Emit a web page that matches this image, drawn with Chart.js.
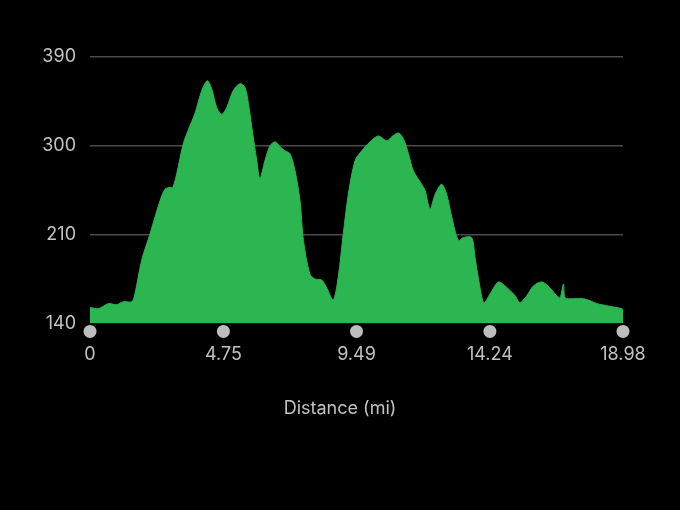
<!DOCTYPE html>
<html lang="en">
  <head>
    <meta charset="UTF-8" />
    <title>Elevation</title>
    <script src="https://cdn.jsdelivr.net/npm/chart.js@4"></script>
    <style>
      html, body { margin: 0; padding: 0; background: #000; }
      #wrap { width: 680px; height: 510px; }
    </style>
  </head>
  <body>
    <div id="wrap"><canvas id="Graph"></canvas></div>

    <script>
      // distance (mi) and elevation
      const distance = [0, 0.30, 0.65, 0.95, 1.19, 1.49, 1.60, 1.84, 2.14, 2.49, 2.67, 2.85, 2.95, 3.09, 3.32, 3.50, 3.74, 3.98, 4.18, 4.33, 4.51, 4.69, 4.87, 5.10, 5.34, 5.52, 5.64, 5.76, 5.94, 6.05, 6.23, 6.41, 6.59, 6.77, 6.94, 7.12, 7.30, 7.48, 7.60, 7.83, 8.01, 8.25, 8.43, 8.66, 8.84, 9.02, 9.20, 9.44, 9.68, 9.97, 10.27, 10.57, 10.74, 10.98, 11.16, 11.34, 11.51, 11.81, 11.93, 12.11, 12.29, 12.52, 12.70, 12.88, 13.12, 13.29, 13.59, 13.71, 13.89, 14.03, 14.25, 14.54, 14.78, 15.14, 15.31, 15.55, 15.79, 16.09, 16.38, 16.62, 16.74, 16.86, 16.92, 17.21, 17.57, 17.81, 18.05, 18.40, 18.76, 18.94, 18.98];
      const elevation = [136, 135, 140, 139, 142, 142, 150, 184, 211, 244, 256, 258, 258, 272, 302, 316, 333, 356, 366, 358, 339, 332, 339, 356, 363, 359, 343, 319, 285, 267, 285, 300, 304, 299, 295, 292, 275, 244, 204, 170, 165, 164, 156, 144, 167, 211, 251, 285, 295, 304, 310, 305, 309, 313, 307, 292, 275, 261, 255, 236, 251, 261, 251, 228, 204, 207, 207, 187, 156, 141, 150, 162, 158, 148, 141, 148, 158, 162, 156, 148, 146, 160, 146, 145, 145, 143, 140, 138, 136, 135, 134];

      const xTicks = [0, 4.75, 9.49, 14.24, 18.98];
      const yTickValues = [120, 210, 300, 390];
      const yTickLabels = ['140', '210', '300', '390'];

      const gray = '#c2c2c2';
      const font = { family: 'Inter, "Noto Sans", sans-serif', size: 18 };

      // grey dots under the x axis at each tick
      const tickDots = {
        id: 'tickDots',
        afterDraw(chart) {
          const ctx = chart.ctx;
          const xs = chart.scales.x;
          const y = chart.chartArea.bottom + 8;
          ctx.save();
          ctx.fillStyle = '#bdbdbd';
          xTicks.forEach(t => {
            ctx.beginPath();
            ctx.arc(xs.getPixelForValue(t), y, 6.5, 0, Math.PI * 2);
            ctx.fill();
          });
          ctx.restore();
        }
      };

      const element = document.getElementById('Graph').getContext('2d');
      new Chart(element, {
        type: 'line',
        data: {
          datasets: [{
            data: distance.map((d, i) => ({ x: d, y: elevation[i] })),
            fill: 'start',
            backgroundColor: '#2bb651',
            borderColor: '#2bb651',
            borderWidth: 1,
            pointRadius: 0,
            tension: 0.3
          }]
        },
        options: {
          responsive: true,
          maintainAspectRatio: false,
          animation: false,
          layout: { padding: { left: 0, right: 0, top: 57, bottom: 91 } },
          plugins: {
            legend: { display: false },
            tooltip: { enabled: false },
            title: {
              display: true,
              position: 'bottom',
              text: 'Distance (mi)',
              color: gray,
              font: { family: font.family, size: 18, weight: 'normal', lineHeight: 1.2 },
              padding: 0
            }
          },
          scales: {
            x: {
              type: 'linear',
              min: 0,
              max: 18.98,
              afterBuildTicks: s => { s.ticks = xTicks.map(v => ({ value: v })); },
              afterFit: s => { s.height = 74; },
              grid: { display: false, drawTicks: false },
              border: { display: false },
              ticks: {
                color: gray,
                font: font,
                padding: 20,
                maxRotation: 0,
                callback: v => String(v)
              }
            },
            y: {
              min: 120,
              max: 390,
              afterBuildTicks: s => { s.ticks = yTickValues.map(v => ({ value: v })); },
              afterFit: s => { s.width = 90; },
              grid: {
                color: c => (c.tick && c.tick.value === 120 ? 'rgba(0,0,0,0)' : '#4a4a4a'),
                lineWidth: 1.5,
                drawTicks: false
              },
              border: { display: false },
              ticks: {
                color: gray,
                font: font,
                padding: 14,
                callback: v => yTickLabels[yTickValues.indexOf(v)]
              }
            },
            // empty right-hand scale, only reserves the right margin
            yRight: {
              position: 'right',
              afterFit: s => { s.width = 57; },
              grid: { display: false, drawTicks: false },
              border: { display: false },
              ticks: { display: false }
            }
          }
        },
        plugins: [tickDots]
      });
    </script>
  </body>
</html>
